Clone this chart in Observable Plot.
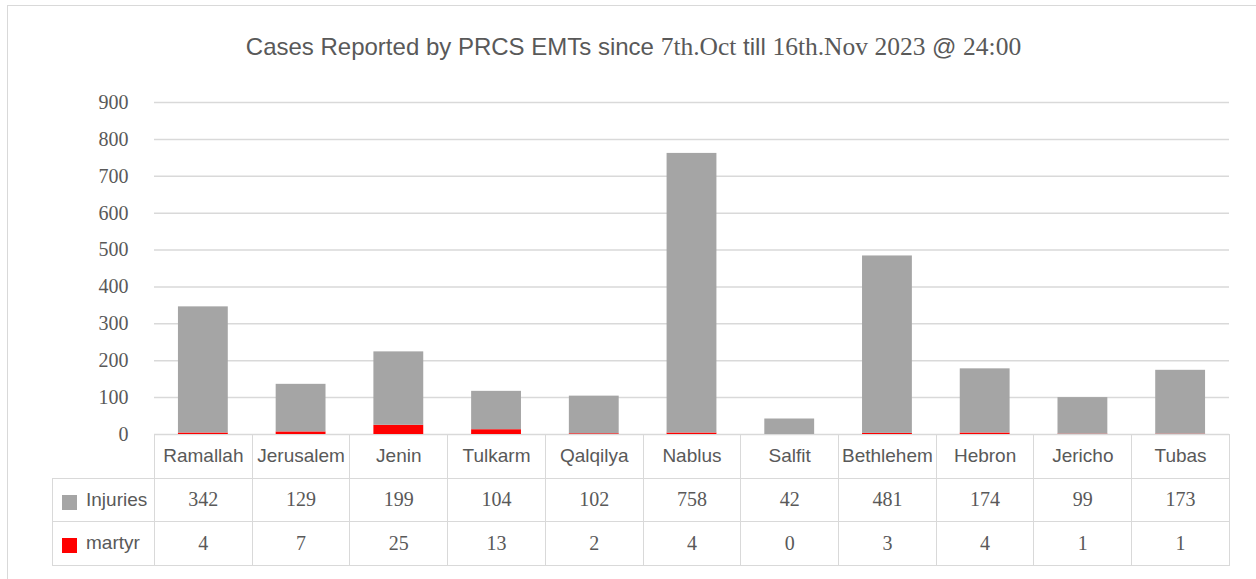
<!DOCTYPE html>
<html><head><meta charset="utf-8">
<script src="https://cdn.jsdelivr.net/npm/d3@7"></script>
<script src="https://cdn.jsdelivr.net/npm/@observablehq/plot@0.6"></script>
<style>
body{margin:0;background:#fff;}
#wrap{position:relative;width:1256px;height:579px;overflow:hidden;background:#fff;}
#frame{position:absolute;left:7px;top:5px;width:1300px;height:640px;border:1.5px solid #d9d9d9;box-sizing:border-box;}
#title{position:absolute;top:33px;left:0;width:1267px;text-align:center;font:24px "Liberation Sans",Arial,sans-serif;color:#595959;white-space:nowrap;line-height:28px;}
.num{font-family:"Liberation Serif","Times New Roman",serif;font-size:25.5px;}
#chart{position:absolute;left:0;top:0;}
#tbl{position:absolute;border-collapse:collapse;table-layout:fixed;top:434px;}
#tbl td{border:1.5px solid #d9d9d9;height:42.5px;padding:0;text-align:center;color:#595959;overflow:hidden;white-space:nowrap;}
#tbl td.hdr{font:19px "Liberation Sans",Arial,sans-serif;}
#tbl td.val{font:20px "Liberation Serif","Times New Roman",serif;}
#tbl td.leg{text-align:left;padding-left:9px;font:19px "Liberation Sans",Arial,sans-serif;}
#tbl td.blank{border-left:none;border-top:none;}
.sw{display:inline-block;width:15px;height:15px;vertical-align:-4px;margin-right:9px;}
</style>
</head><body>
<div id="wrap">
  <div id="frame"></div>
  <div id="title">Cases Reported by PRCS EMTs since <span class="num">7th.Oct</span> till <span class="num">16th.Nov 2023</span> @ <span class="num">24:00</span></div>
  <div id="chart"></div>
  <table id="tbl"></table>
</div>
<script>
const categories = ["Ramallah","Jerusalem","Jenin","Tulkarm","Qalqilya","Nablus","Salfit","Bethlehem","Hebron","Jericho","Tubas"];
const injuries = [342,129,199,104,102,758,42,481,174,99,173];
const martyr = [4,7,25,13,2,4,0,3,4,1,1];
const seriesNames = ["Injuries","martyr"];
const seriesColors = ["#a5a5a5","#ff0000"];
const yTicks = [0,100,200,300,400,500,600,700,800,900];

const rows = [];
categories.forEach((c,i)=>rows.push({cat:c, series:"martyr", value:martyr[i]}));
categories.forEach((c,i)=>rows.push({cat:c, series:"Injuries", value:injuries[i]}));

const marginLeft = 154, marginRight = 27;
const plot = Plot.plot({
  width:1256, height:450,
  marginTop:102, marginBottom:16, marginLeft, marginRight,
  x:{domain:categories, paddingInner:0.49, paddingOuter:0.245, round:false, axis:null},
  y:{domain:[0,900], axis:null},
  color:{domain:seriesNames, range:seriesColors},
  marks:[
    Plot.gridY(yTicks, {stroke:"#d9d9d9", strokeOpacity:1, strokeWidth:1.5}),
    Plot.barY(rows, {x:"cat", y:"value", z:"series", fill:"series"}),
    Plot.axisY(yTicks, {tickSize:0, tickPadding:26, fontSize:20, fontFamily:"Liberation Serif", fill:"#595959", label:null})
  ]
});
document.getElementById("chart").appendChild(plot);

// table aligned to the x band scale
const xs = plot.scale("x");
const step = xs.step;
const legendW = 102;
const tbl = document.getElementById("tbl");
tbl.style.left = (marginLeft - legendW) + "px";
tbl.style.width = (legendW + step*categories.length) + "px";
const cg = document.createElement("colgroup");
let col = document.createElement("col"); col.style.width = legendW + "px"; cg.appendChild(col);
categories.forEach(()=>{ const c = document.createElement("col"); c.style.width = step + "px"; cg.appendChild(c); });
tbl.appendChild(cg);
let tr = document.createElement("tr");
let td = document.createElement("td"); td.className = "blank"; tr.appendChild(td);
categories.forEach(c=>{ const t = document.createElement("td"); t.className="hdr"; t.textContent=c; tr.appendChild(t); });
tbl.appendChild(tr);
[injuries, martyr].forEach((vals,k)=>{
  const r = document.createElement("tr");
  const l = document.createElement("td"); l.className="leg";
  l.innerHTML = `<span class="sw" style="background:${seriesColors[k]}"></span>${seriesNames[k]}`;
  r.appendChild(l);
  vals.forEach(v=>{ const t = document.createElement("td"); t.className="val"; t.textContent=v; r.appendChild(t); });
  tbl.appendChild(r);
});
</script>
</body></html>
